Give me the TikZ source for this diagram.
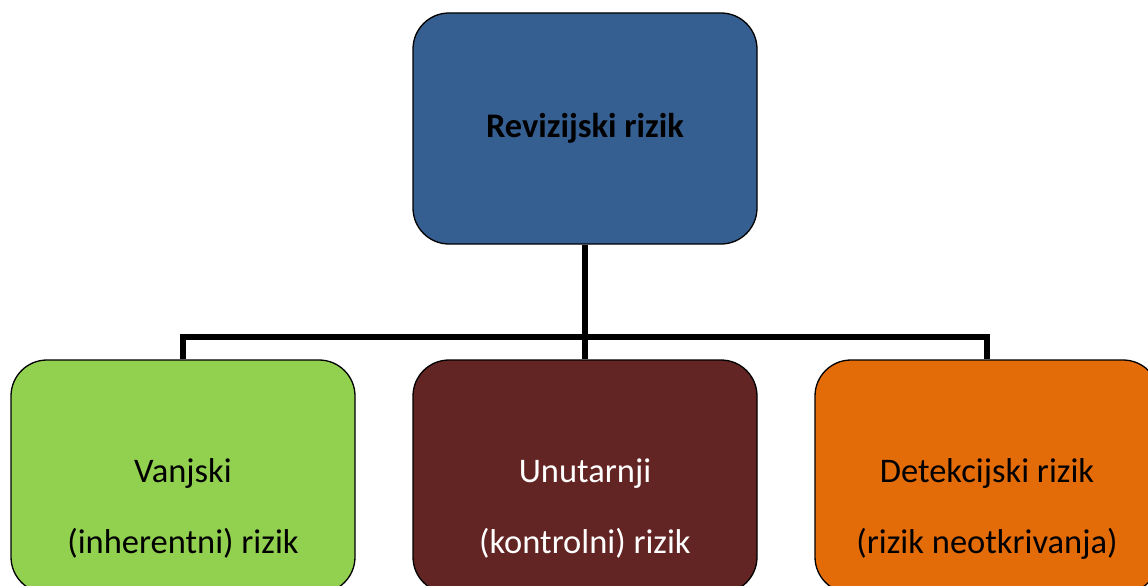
\documentclass[tikz,border=0pt]{standalone}
\usepackage{fontspec}
\setmainfont{Carlito}
\usepackage{xcolor}
\usepackage{tikz}
\usetikzlibrary{positioning}
\definecolor{riskblue}{HTML}{365F91}
\definecolor{riskgreen}{HTML}{92D050}
\definecolor{riskmaroon}{HTML}{632523}
\definecolor{riskorange}{HTML}{E36C09}
\tikzstyle{riskbox} = [rectangle, rounded corners=36pt, minimum width=344pt, minimum height=233pt, draw=black, line width=1.3pt]
\tikzstyle{toptext} = [font=\fontsize{34.5}{40}\selectfont\bfseries, text=black]
\tikzstyle{subtext} = [font=\fontsize{34.5}{71}\selectfont, align=center]
\tikzstyle{line} = [line width=5.5pt, black]

\begin{document}
\begin{tikzpicture}[x=1pt, y=-1pt, node distance=2cm, on grid]
  \useasboundingbox (0,0) rectangle (1148,586);
  \node (top) [riskbox, fill=riskblue, minimum height=231pt] at (585,128.5) {};
  \node (toplabel) [toptext] at (top.center) {Revizijski rizik};
  \node (mid) [riskbox, fill=riskmaroon, below=348pt of top] {};
  \node (left) [riskbox, fill=riskgreen, left=402pt of mid] {};
  \node (right) [riskbox, fill=riskorange, right=402pt of mid] {};

  \node (leftlabel) [subtext, text=black] at ([yshift=-32pt]left.center) {Vanjski\\(inherentni) rizik};
  \node (midlabel) [subtext, text=white] at ([yshift=-32pt]mid.center) {Unutarnji\\(kontrolni) rizik};
  \node (rightlabel) [subtext, text=black] at ([yshift=-32pt]right.center) {Detekcijski rizik\\(rizik neotkrivanja)};

  \coordinate (bus) at (585,337);
  \draw[line] (top) -- (bus);
  \draw[line] (left.north) |- (bus) -| (right.north);
  \draw[line] (bus) -- (mid.north);
\end{tikzpicture}
\end{document}
